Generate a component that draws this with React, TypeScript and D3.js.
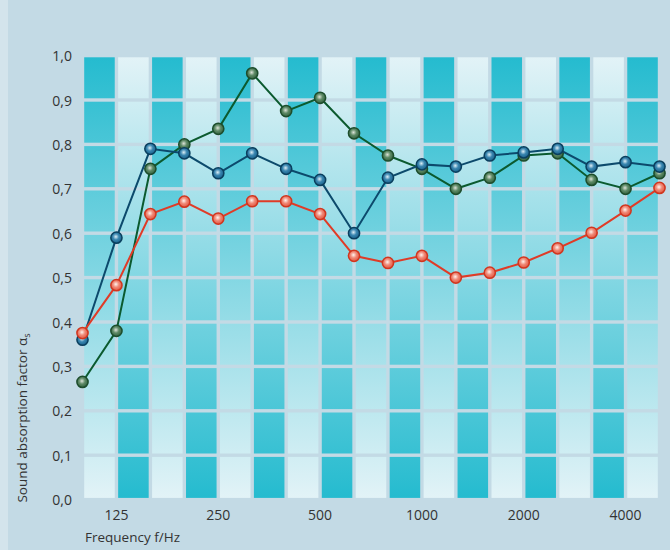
import React from 'react'
import * as d3 from 'd3'

// third-octave band centre frequencies (Hz)
const freqs = ['100', '125', '160', '200', '250', '315', '400', '500', '630', '800', '1000', '1250', '1600', '2000', '2500', '3150', '4000', '5000']
const xTickFreqs = ['125', '250', '500', '1000', '2000', '4000']
const yTicks = [0, 0.1, 0.2, 0.3, 0.4, 0.5, 0.6, 0.7, 0.8, 0.9, 1.0]

const greenSeries = [0.265, 0.38, 0.745, 0.8, 0.835, 0.96, 0.875, 0.905, 0.825, 0.775, 0.745, 0.7, 0.725, 0.775, 0.78, 0.72, 0.7, 0.735]
const blueSeries = [0.36, 0.59, 0.79, 0.78, 0.735, 0.78, 0.745, 0.72, 0.6, 0.725, 0.755, 0.75, 0.775, 0.782, 0.79, 0.75, 0.76, 0.75]
const redSeries = [0.375, 0.483, 0.643, 0.671, 0.633, 0.672, 0.672, 0.643, 0.549, 0.533, 0.549, 0.5, 0.511, 0.534, 0.566, 0.601, 0.651, 0.702]

const W = 670
const H = 550
const BG = '#c3dae5'
const GAP = 3.4
const FONT = '"Open Sans", "Noto Sans", sans-serif'

const series = [
  { id: 'green', values: greenSeries, line: '#0b5a2f', stroke: '#1d4d2c', hi: '#dde3d9', mid: '#5e8a66', edge: '#2f5e3b' },
  { id: 'blue', values: blueSeries, line: '#0c4a6c', stroke: '#0a3f5e', hi: '#dceef6', mid: '#3a86b0', edge: '#165e88' },
  { id: 'red', values: redSeries, line: '#e03b27', stroke: '#d0361f', hi: '#fff3ee', mid: '#f08a78', edge: '#e2523c' },
]

const fmt = (v: number) => v.toFixed(1).replace('.', ',')

export default function App() {
  const x = d3.scalePoint<string>().domain(freqs).range([82.5, 659.5])
  const y = d3.scaleLinear().domain([0, 1]).range([499.6, 55.6])

  const cols = d3.range(freqs.length - 1)
  const rows = d3.range(yTicks.length - 1)

  return (
    <svg width={W} height={H} style={{ position: 'absolute', left: 0, top: 0, display: 'block' }}>
      <defs>
        <linearGradient id="darkTop" gradientUnits="userSpaceOnUse" x1="0" y1={y(1)} x2="0" y2={y(0)}>
          <stop offset="0%" stopColor="#24bbcf" />
          <stop offset="100%" stopColor="#e3f3f7" />
        </linearGradient>
        <linearGradient id="lightTop" gradientUnits="userSpaceOnUse" x1="0" y1={y(1)} x2="0" y2={y(0)}>
          <stop offset="0%" stopColor="#e3f3f7" />
          <stop offset="100%" stopColor="#24bbcf" />
        </linearGradient>
        {series.map(s => (
          <radialGradient key={s.id} id={`dot-${s.id}`} cx="45%" cy="42%" r="60%">
            <stop offset="0%" stopColor={s.hi} />
            <stop offset="45%" stopColor={s.mid} />
            <stop offset="100%" stopColor={s.edge} />
          </radialGradient>
        ))}
      </defs>

      <rect x={0} y={0} width={W} height={H} fill={BG} />
      <rect x={0} y={0} width={8} height={H} fill="#d3e4ec" />

      {/* checkered band cells */}
      {cols.map(i => rows.map(j => {
        const left = x(freqs[i])! + GAP / 2
        const right = x(freqs[i + 1])! - GAP / 2
        const top = y(yTicks[j + 1]) + GAP / 2
        const bottom = y(yTicks[j]) - GAP / 2
        return (
          <rect key={`${i}-${j}`} x={left} y={top} width={right - left} height={bottom - top}
            fill={i % 2 === 0 ? 'url(#darkTop)' : 'url(#lightTop)'} />
        )
      }))}

      {/* y axis ticks */}
      {yTicks.map(t => (
        <text key={t} x={72} y={y(t)} textAnchor="end" dominantBaseline="central"
          fontFamily={FONT} fontSize={14} fill="#333">{fmt(t)}</text>
      ))}

      {/* x axis ticks */}
      {xTickFreqs.map(f => (
        <text key={f} x={x(f)} y={520} textAnchor="middle"
          fontFamily={FONT} fontSize={14} fill="#333">{f}</text>
      ))}

      <text x={85} y={542} fontFamily={FONT} fontSize={13.5} fill="#333">Frequency f/Hz</text>

      <text transform="translate(27,418) rotate(-90)" textAnchor="middle"
        fontFamily={FONT} fontSize={13.5} fill="#333">
        Sound absorption factor α<tspan fontSize={9} dy={3}>s</tspan>
      </text>

      {/* series */}
      {series.map(s => {
        const line = d3.line<number>()
          .x((_, i) => x(freqs[i])!)
          .y(v => y(v))
        return (
          <g key={s.id}>
            <path d={line(s.values) || ''} fill="none" stroke={s.line} strokeWidth={2} />
            {s.values.map((v, i) => (
              <circle key={i} cx={x(freqs[i])} cy={y(v)} r={5.6}
                fill={`url(#dot-${s.id})`} stroke={s.stroke} strokeWidth={1.5} />
            ))}
          </g>
        )
      })}
    </svg>
  )
}
